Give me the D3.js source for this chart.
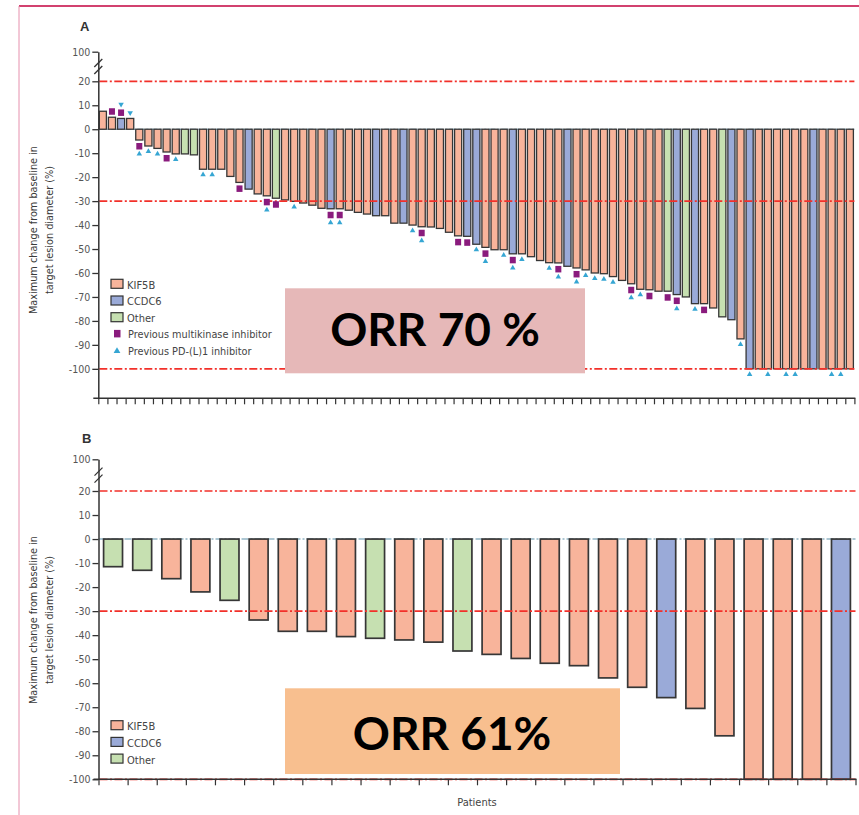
<!DOCTYPE html>
<html>
<head>
<meta charset="utf-8">
<script src="https://cdn.jsdelivr.net/npm/d3@7"></script>
<style>
  html, body { margin: 0; padding: 0; background: #fff; }
  svg { display: block; }
</style>
</head>
<body>
<svg id="chart" width="859" height="815"></svg>
<script>
// ---- Panel A: previously treated patients ----
const valuesA = [
  7.5, 5, 4.5, 4.5, -4.5, -7, -8, -9.5, -10.3, -10.3,
  -10.7, -16.7, -16.7, -16.7, -19.7, -22.2, -25, -27, -27.8, -28.8,
  -29.5, -30.1, -30.8, -31.7, -33, -33.2, -33.2, -33.8, -34.7, -35.4,
  -36.1, -36.1, -39.2, -39.2, -40, -40.7, -40.8, -41.4, -43, -44.5,
  -44.7, -48, -49.3, -50.3, -50.3, -52, -52, -53.2, -54.8, -55.7,
  -55.8, -57.2, -57.9, -58.7, -60, -60.3, -61.5, -63.1, -64.5, -66.8,
  -67, -67.6, -67.6, -69, -70, -72.8, -72.8, -74.6, -78.3, -79.5,
  -87.5, -100, -100, -100, -100, -100, -100, -100, -100, -100,
  -100, -100, -100
];
const fusionA = [
  "KIF5B","KIF5B","CCDC6","KIF5B","KIF5B","KIF5B","KIF5B","KIF5B","KIF5B","Other",
  "Other","KIF5B","KIF5B","KIF5B","KIF5B","KIF5B","CCDC6","KIF5B","KIF5B","Other",
  "KIF5B","KIF5B","KIF5B","KIF5B","KIF5B","CCDC6","KIF5B","KIF5B","KIF5B","KIF5B",
  "CCDC6","KIF5B","KIF5B","CCDC6","KIF5B","KIF5B","KIF5B","KIF5B","KIF5B","KIF5B",
  "CCDC6","CCDC6","KIF5B","KIF5B","KIF5B","CCDC6","KIF5B","KIF5B","KIF5B","KIF5B",
  "KIF5B","CCDC6","KIF5B","KIF5B","KIF5B","KIF5B","KIF5B","KIF5B","KIF5B","KIF5B",
  "KIF5B","KIF5B","Other","CCDC6","Other","CCDC6","KIF5B","KIF5B","Other","CCDC6",
  "KIF5B","CCDC6","KIF5B","KIF5B","KIF5B","KIF5B","KIF5B","KIF5B","CCDC6","KIF5B",
  "KIF5B","KIF5B","KIF5B"
];
// patient numbers (1-based) with prior therapies
const multikinaseA = [2, 3, 5, 8, 16, 19, 20, 26, 27, 36, 40, 41, 43, 46, 51, 53, 59, 61, 63, 64, 67];
const pdl1A = [3, 4, 5, 6, 7, 9, 12, 13, 19, 22, 26, 27, 35, 36, 42, 43, 45, 46, 47, 50, 51, 53,
               54, 55, 56, 57, 59, 60, 64, 66, 71, 72, 74, 76, 77, 81, 82];

// ---- Panel B: treatment-naive patients ----
const valuesB = [
  -11.5, -13, -16.5, -22, -25.5, -33.7, -38.4, -38.4, -40.6, -41.3,
  -42, -42.9, -46.6, -48, -49.7, -51.7, -52.7, -57.8, -61.7, -66,
  -70.5, -81.9, -100, -100, -100, -100
];
const fusionB = [
  "Other","Other","KIF5B","KIF5B","Other","KIF5B","KIF5B","KIF5B","KIF5B","Other",
  "KIF5B","KIF5B","Other","KIF5B","KIF5B","KIF5B","KIF5B","KIF5B","KIF5B","CCDC6",
  "KIF5B","KIF5B","KIF5B","KIF5B","KIF5B","CCDC6"
];

const yTicks = [100, 20, 10, 0, -10, -20, -30, -40, -50, -60, -70, -80, -90, -100];
const refLines = [20, -30, -100];
const legendFusions = ["KIF5B", "CCDC6", "Other"];

const fusionColor = d3.scaleOrdinal()
  .domain(["KIF5B", "CCDC6", "Other"])
  .range(["#f8b49b", "#9aaad8", "#c6e0b1"]);

const RED = "#f2302a";
const MKI = "#8a1b7d";
const PDL = "#36a6d3";
const SMALL = '"Liberation Sans Narrow", "DejaVu Sans Condensed", "Liberation Sans", sans-serif';

const svg = d3.select("#chart");

// frame lines
svg.append("line").attr("x1", 19).attr("x2", 859).attr("y1", 6).attr("y2", 6)
  .attr("stroke", "#d2416f").attr("stroke-width", 2);
svg.append("line").attr("x1", 19).attr("x2", 19).attr("y1", 6).attr("y2", 815)
  .attr("stroke", "#e690ad").attr("stroke-width", 1);

function drawPanel(cfg) {
  const g = svg.append("g");
  const n = cfg.values.length;
  const idx = d3.range(n);

  const x = d3.scaleBand().domain(idx).range(cfg.xRange)
    .paddingInner(cfg.pad).paddingOuter(cfg.pad / 2);
  const edges = d3.scaleLinear().domain([0, n]).range(cfg.xRange);
  const y = cfg.y;
  const y0 = y(0);

  // zero reference
  g.append("line")
    .attr("x1", cfg.xRange[0]).attr("x2", cfg.xRange[1])
    .attr("y1", y0).attr("y2", y0)
    .attr("stroke", "#5d90a8").attr("stroke-width", 1.1)
    .attr("stroke-dasharray", "7,2,2,2");

  // bars
  g.selectAll("rect.bar").data(idx).join("rect")
    .attr("class", "bar")
    .attr("x", i => x(i))
    .attr("width", x.bandwidth())
    .attr("y", i => Math.min(y(cfg.values[i]), y0))
    .attr("height", i => Math.abs(y(cfg.values[i]) - y0))
    .attr("fill", i => fusionColor(cfg.fusion[i]))
    .attr("stroke", "#363636")
    .attr("stroke-width", cfg.barStroke);

  // dash-dot reference lines
  g.selectAll("line.ref").data(refLines).join("line")
    .attr("class", "ref")
    .attr("x1", cfg.xRange[0] + 1).attr("x2", cfg.xRange[1])
    .attr("y1", d => y(d)).attr("y2", d => y(d))
    .attr("stroke", RED).attr("stroke-width", 1.7)
    .attr("stroke-dasharray", "8,2.5,2,2.5");

  // prior therapy markers
  if (cfg.mki) {
    const mkiSet = new Set(cfg.mki);
    cfg.mki.forEach(p => {
      const i = p - 1, v = cfg.values[i];
      const dir = v >= 0 ? -1 : 1;
      const cy = y(v) + dir * 6;
      g.append("rect")
        .attr("x", x(i) + x.bandwidth() / 2 - 3).attr("y", cy - 3)
        .attr("width", 6).attr("height", 6.5)
        .attr("fill", MKI);
    });
    cfg.pdl.forEach(p => {
      const i = p - 1, v = cfg.values[i];
      const dir = v >= 0 ? -1 : 1;
      const off = mkiSet.has(p) ? 14 : 5.5;
      const cy = y(v) + dir * off;
      g.append("path")
        .attr("d", d3.symbol(d3.symbolTriangle, 13)())
        .attr("transform", `translate(${x(i) + x.bandwidth() / 2},${cy}) rotate(${v >= 0 ? 180 : 0})`)
        .attr("fill", PDL);
    });
  }

  // y axis
  const yAxis = d3.axisLeft(y).tickValues(yTicks).tickSize(6).tickSizeOuter(0)
    .tickPadding(2).tickFormat(d => String(d));
  const ya = g.append("g").attr("transform", `translate(${cfg.xRange[0]},0)`).call(yAxis);
  ya.select(".domain").attr("stroke", "#333").attr("stroke-width", 1.5);
  ya.selectAll(".tick line").attr("stroke", "#333").attr("stroke-width", 1.3);
  ya.selectAll(".tick text").attr("fill", "#555").style("font-family", SMALL).style("font-size", "10.5px");

  // axis break marks between 20 and 100
  const bx = cfg.xRange[0], by = (y(100) + y(20)) / 2;
  [-3.5, 3.5].forEach(dy => {
    g.append("line")
      .attr("x1", bx - 4).attr("y1", by + dy + 4)
      .attr("x2", bx + 4).attr("y2", by + dy - 4)
      .attr("stroke", "#333").attr("stroke-width", 1.3);
  });

  // x axis: ticks at patient boundaries
  const xAxis = d3.axisBottom(edges).tickValues(d3.range(n + 1)).tickSize(6)
    .tickSizeOuter(0).tickFormat("");
  const xa = g.append("g").attr("transform", `translate(0,${cfg.xAxisY})`).call(xAxis);
  xa.select(".domain").attr("stroke", "#333").attr("stroke-width", 1.5)
    .attr("d", `M${cfg.xRange[0] - 5},0H${cfg.xRange[1] + 1}`);
  xa.selectAll(".tick line").attr("stroke", "#333").attr("stroke-width", 1.2);

  // panel letter
  g.append("text").attr("x", cfg.letterPos[0]).attr("y", cfg.letterPos[1])
    .text(cfg.letter).attr("fill", "#333")
    .style("font-family", "Liberation Sans, sans-serif").style("font-weight", "bold").style("font-size", "13px");

  // y axis title
  cfg.title.forEach((t, k) => {
    g.append("text")
      .attr("transform", `translate(${37 + k * 16},${cfg.titleY}) rotate(-90)`)
      .attr("text-anchor", "middle")
      .attr("fill", "#3a3a3a")
      .style("font-family", SMALL).style("font-size", "10.8px")
      .text(t);
  });

  // legend
  const lg = g.append("g").attr("transform", `translate(111,${cfg.legendY})`);
  legendFusions.forEach((f, k) => {
    lg.append("rect").attr("x", 0).attr("y", k * 16.7).attr("width", 12).attr("height", 9)
      .attr("fill", fusionColor(f)).attr("stroke", "#333").attr("stroke-width", 1.2);
    lg.append("text").attr("x", 16).attr("y", k * 16.7 + 9.5).text(f)
      .attr("fill", "#444").style("font-family", SMALL).style("font-size", "11px");
  });
  if (cfg.mki) {
    lg.append("rect").attr("x", 3).attr("y", 3 * 16.7 + 0.5).attr("width", 6.5).attr("height", 7.5)
      .attr("fill", MKI);
    lg.append("text").attr("x", 17).attr("y", 3 * 16.7 + 9).text("Previous multikinase inhibitor")
      .attr("fill", "#444").style("font-family", SMALL).style("font-size", "10.8px");
    lg.append("path").attr("d", d3.symbol(d3.symbolTriangle, 20)())
      .attr("transform", `translate(6,${4 * 16.7 + 5})`).attr("fill", PDL);
    lg.append("text").attr("x", 17).attr("y", 4 * 16.7 + 9).text("Previous PD-(L)1 inhibitor")
      .attr("fill", "#444").style("font-family", SMALL).style("font-size", "10.8px");
  }

  // response rate callout
  const b = cfg.box;
  g.append("rect").attr("x", b.x).attr("y", b.y).attr("width", b.w).attr("height", b.h)
    .attr("fill", b.fill);
  g.append("text").attr("x", b.x + b.tx).attr("y", b.y + b.ty)
    .attr("text-anchor", "middle")
    .attr("fill", "#000")
    .style("font-family", "Lato, 'Open Sans', sans-serif").style("font-weight", "bold")
    .style("font-size", b.size + "px")
    .text(b.text);
}

drawPanel({
  values: valuesA, fusion: fusionA, mki: multikinaseA, pdl: pdl1A,
  xRange: [98.3, 854.4], pad: 0.22, barStroke: 1.3,
  y: d3.scaleLinear().domain([-112.3, 20, 100]).range([398.3, 81.3, 51.7]),
  xAxisY: 398.3,
  letter: "A", letterPos: [80, 31],
  title: ["Maximum change from baseline in", "target lesion diameter (%)"], titleY: 230,
  legendY: 279.3,
  box: { x: 285, y: 288.3, w: 300, h: 85, fill: "#e6b8b8", text: "ORR 70 %", tx: 150, ty: 58, size: 46 }
});

drawPanel({
  values: valuesB, fusion: fusionB,
  xRange: [98.5, 855.5], pad: 0.35, barStroke: 1.7,
  y: d3.scaleLinear().domain([-100, 20, 100]).range([779.3, 491, 459.3]),
  xAxisY: 779.3,
  letter: "B", letterPos: [82, 443],
  title: ["Maximum change from baseline in", "target lesion diameter (%)"], titleY: 620,
  legendY: 720.7,
  box: { x: 285, y: 688.3, w: 335, h: 85.7, fill: "#f8bf8f", text: "ORR 61%", tx: 167, ty: 62, size: 46 }
});

svg.append("text").attr("x", 477).attr("y", 806).attr("text-anchor", "middle")
  .attr("fill", "#444").style("font-family", SMALL).style("font-size", "11px")
  .text("Patients");
</script>
</body>
</html>
